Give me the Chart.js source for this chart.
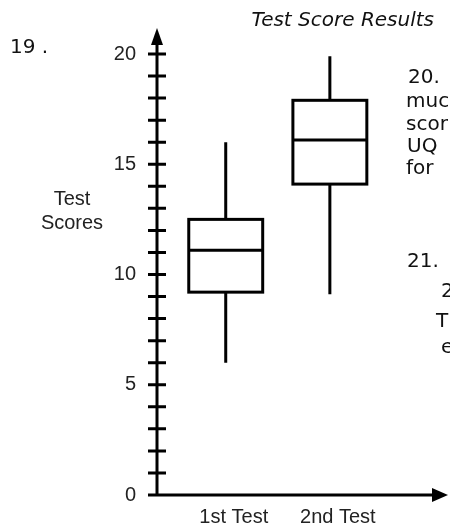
<!DOCTYPE html>
<html>
<head>
<meta charset="utf-8">
<script src="https://cdn.jsdelivr.net/npm/chart.js@4.4.1/dist/chart.umd.min.js"></script>
<style>
    html, body { margin: 0; padding: 0; background: #fff; }
    #wrap { width: 450px; height: 525px; }
</style>
</head>
<body>
<div id="wrap"><canvas id="grafico"></canvas></div>
<script>
// dados
const TESTES = ['1st Test', '2nd Test'];
const MINIMOS = [6, 9.1];
const Q1 = [9.2, 14.1];
const MEDIANAS = [11.1, 16.1];
const Q3 = [12.5, 17.9];
const MAXIMOS = [16, 19.9];
const ROTULOS_Y = [0, 5, 10, 15, 20];

// textos da folha de exercícios em volta do gráfico
const TEXTOS_FOLHA = [
    { t: '19 .', x: 10, y: 48 },
    { t: '20.', x: 408, y: 78 },
    { t: 'muc', x: 406, y: 102 },
    { t: 'scor', x: 406, y: 125 },
    { t: 'UQ', x: 407, y: 147 },
    { t: 'for', x: 406, y: 169 },
    { t: '21.', x: 407, y: 262 },
    { t: '2', x: 441, y: 292 },
    { t: 'T', x: 436, y: 322 },
    { t: 'e', x: 441, y: 348 }
];

const FONTE = "'Liberation Sans', Arial, sans-serif";
const FONTE_FOLHA = "'DejaVu Sans', sans-serif";
const MEIA_LARGURA = 0.355;

const pluginEixosCaixas = {
    id: 'eixosCaixas',
    afterDraw(chart) {
        const { ctx, chartArea, scales } = chart;
        const x = scales.x, y = scales.y;
        const x0 = chartArea.left, y0 = y.getPixelForValue(0);

        ctx.save();
        ctx.strokeStyle = '#000';
        ctx.fillStyle = '#000';
        ctx.lineWidth = 3;
        ctx.lineCap = 'butt';

        // eixo y com marcas cruzando
        ctx.beginPath();
        ctx.moveTo(x0, y0 + 1.5);
        ctx.lineTo(x0, 42);
        y.ticks.forEach(tk => {
            if (tk.value === 0) return;
            const py = y.getPixelForValue(tk.value);
            ctx.moveTo(x0 - 9, py);
            ctx.lineTo(x0 + 9, py);
        });
        // eixo x
        ctx.moveTo(x0 - 9, y0);
        ctx.lineTo(chartArea.right, y0);
        ctx.stroke();

        // setas
        ctx.beginPath();
        ctx.moveTo(x0, 28);
        ctx.lineTo(x0 - 6, 45);
        ctx.lineTo(x0 + 6, 45);
        ctx.closePath();
        ctx.fill();
        ctx.beginPath();
        ctx.moveTo(chartArea.right + 14, y0);
        ctx.lineTo(chartArea.right - 2, y0 - 7);
        ctx.lineTo(chartArea.right - 2, y0 + 7);
        ctx.closePath();
        ctx.fill();

        // caixas
        TESTES.forEach((_, i) => {
            const cx = x.getPixelForValue(i + 1);
            const xl = x.getPixelForValue(i + 1 - MEIA_LARGURA);
            const xr = x.getPixelForValue(i + 1 + MEIA_LARGURA);
            const pMin = y.getPixelForValue(MINIMOS[i]);
            const pQ1 = y.getPixelForValue(Q1[i]);
            const pMed = y.getPixelForValue(MEDIANAS[i]);
            const pQ3 = y.getPixelForValue(Q3[i]);
            const pMax = y.getPixelForValue(MAXIMOS[i]);

            ctx.strokeRect(xl, pQ3, xr - xl, pQ1 - pQ3);
            ctx.beginPath();
            ctx.moveTo(xl, pMed);
            ctx.lineTo(xr, pMed);
            ctx.moveTo(cx, pQ3);
            ctx.lineTo(cx, pMax);
            ctx.moveTo(cx, pQ1);
            ctx.lineTo(cx, pMin);
            ctx.stroke();
        });

        // título do eixo y (horizontal)
        ctx.font = '20px ' + FONTE;
        ctx.fillStyle = '#222';
        ctx.textAlign = 'center';
        ctx.textBaseline = 'middle';
        ctx.fillText('Test', 72, 199);
        ctx.fillText('Scores', 72, 223);

        // textos da folha
        ctx.font = '20px ' + FONTE_FOLHA;
        ctx.fillStyle = '#111';
        ctx.textAlign = 'left';
        TEXTOS_FOLHA.forEach(tx => ctx.fillText(tx.t, tx.x, tx.y));
        ctx.restore();
    }
};

new Chart(document.getElementById('grafico'), {
    type: 'scatter',
    data: { datasets: [] },
    plugins: [pluginEixosCaixas],
    options: {
        responsive: true,
        maintainAspectRatio: false,
        animation: false,
        layout: { padding: { left: 0, right: 16, top: 0, bottom: 0 } },
        plugins: {
            legend: { display: false },
            tooltip: { enabled: false },
            title: {
                display: true,
                text: 'Test Score Results',
                align: 'end',
                color: '#111',
                font: { family: FONTE_FOLHA, size: 20, style: 'italic', weight: 'normal' },
                padding: { top: 9, bottom: 21 }
            }
        },
        scales: {
            x: {
                type: 'linear',
                min: 0.34,
                max: 3.0,
                grid: { display: false, drawTicks: false },
                border: { display: false },
                afterBuildTicks: (s) => { s.ticks = TESTES.map((_, i) => ({ value: i + 1 })); },
                afterFit: (s) => { s.height = 30; },
                ticks: {
                    autoSkip: false,
                    maxRotation: 0,
                    padding: 10,
                    labelOffset: 8,
                    color: '#222',
                    font: { family: FONTE, size: 20 },
                    callback: (v) => TESTES[v - 1] || ''
                }
            },
            y: {
                type: 'linear',
                min: 0,
                max: 20,
                // a distância dos rótulos vem do tickLength (marcas desenhadas pelo plugin)
                grid: { display: false, drawTicks: true, tickLength: 21 },
                border: { display: false },
                afterFit: (s) => { s.width = 157; },
                ticks: {
                    stepSize: 1,
                    autoSkip: false,
                    padding: 0,
                    color: '#222',
                    font: { family: FONTE, size: 20 },
                    callback: (v) => ROTULOS_Y.includes(v) ? v : ''
                }
            }
        }
    }
});
</script>
</body>
</html>
